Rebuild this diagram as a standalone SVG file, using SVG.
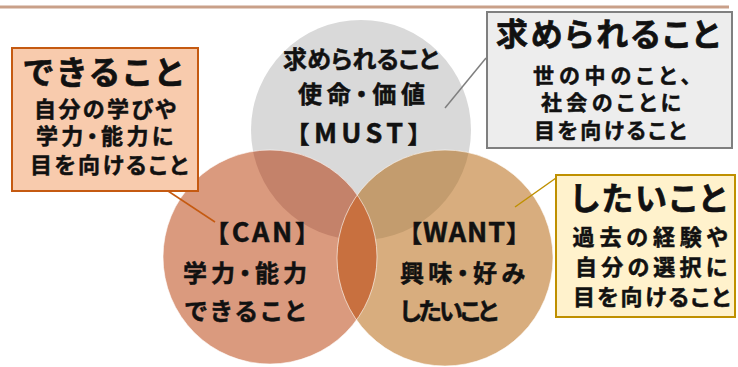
<svg xmlns="http://www.w3.org/2000/svg" width="738" height="367" viewBox="0 0 738 367">
<defs>
<style>
text{font-family:"Noto Sans CJK JP","Noto Sans CJK SC",sans-serif;font-weight:bold;fill:#111;stroke:#111;stroke-width:0.5;font-feature-settings:"palt";text-anchor:middle}
.t{font-size:32px;stroke-width:0.7}
.s{font-size:22px}
.s2{font-size:21px}
.c{font-size:24px}
.b{font-feature-settings:normal}
.L{font-size:27px}
.edge{fill:none;stroke:#fff;stroke-opacity:0.6;stroke-width:1}
</style>
<clipPath id="cMust"><circle cx="361" cy="130" r="110"/></clipPath>
<clipPath id="cCan"><circle cx="270" cy="257" r="107"/></clipPath>
</defs>
<rect width="738" height="367" fill="#fff"/>
<line x1="0" y1="7" x2="729" y2="7" stroke="#C9A089" stroke-width="3"/>

<g id="venn">
<circle id="must" cx="361" cy="130" r="110" fill="#D9D9D9"/>
<circle id="can" cx="270" cy="257" r="107" fill="#DA9A7E"/>
<circle id="want" cx="445" cy="258" r="108" fill="#D8AD7E"/>
<circle cx="270" cy="257" r="107" fill="#C4826A" clip-path="url(#cMust)"/>
<circle cx="445" cy="258" r="108" fill="#C39C6E" clip-path="url(#cMust)"/>
<circle cx="445" cy="258" r="108" fill="#C8703F" clip-path="url(#cCan)"/>
<circle class="edge" cx="270" cy="257" r="107"/>
<circle class="edge" cx="445" cy="258" r="108"/>
</g>

<g id="connectors" stroke-width="1.5" fill="none">
<line x1="168" y1="191" x2="215" y2="222" stroke="#C55A11"/>
<line x1="486" y1="58" x2="445" y2="108" stroke="#7F7F7F"/>
<line x1="556" y1="178" x2="515" y2="207" stroke="#BF9000"/>
</g>

<g id="must-label">
<text class="c" x="361" y="68" textLength="156">求められること</text>
<text class="c" x="361.5" y="103" textLength="127">使命・価値</text>
<text class="c b" x="358.5" y="143" textLength="146">【<tspan class="L">MUST</tspan>】</text>
</g>
<g id="can-label">
<text class="c b" x="262" y="242" textLength="114">【<tspan class="L">CAN</tspan>】</text>
<text class="c" x="245" y="282" textLength="124">学力・能力</text>
<text class="c" x="245" y="320" textLength="120">できること</text>
</g>
<g id="want-label">
<text class="c b" x="464" y="242" textLength="132">【<tspan class="L">WANT</tspan>】</text>
<text class="c" x="462.5" y="282" textLength="125">興味・好み</text>
<text class="c" x="449" y="320" textLength="98">したいこと</text>
</g>

<g id="box-can">
<rect x="12" y="48" width="186" height="143" fill="#F8CBAD" stroke="#C55A11" stroke-width="2"/>
<text class="t" x="103" y="84" textLength="158">できること</text>
<text class="s" x="105" y="117" textLength="142">自分の学びや</text>
<text class="s" x="104.5" y="144" textLength="137">学力・能力に</text>
<text class="s" x="109" y="173" textLength="158">目を向けること</text>
</g>
<g id="box-must">
<rect x="487" y="12" width="245" height="136" fill="#EDEDED" stroke="#7F7F7F" stroke-width="2"/>
<text class="t" x="607.5" y="46" textLength="223">求められること</text>
<text class="s2" x="612" y="83" textLength="158">世の中のこと、</text>
<text class="s2" x="611" y="110" textLength="140">社会のことに</text>
<text class="s2" x="610" y="138" textLength="152">目を向けること</text>
</g>
<g id="box-want">
<rect x="556" y="175" width="179" height="142" fill="#FFF2CC" stroke="#BF9000" stroke-width="2"/>
<text class="t" x="648.5" y="210" textLength="155">したいこと</text>
<text class="s" x="650" y="245" textLength="155">過去の経験や</text>
<text class="s" x="651" y="275" textLength="152">自分の選択に</text>
<text class="s" x="651.5" y="305" textLength="157">目を向けること</text>
</g>
</svg>
